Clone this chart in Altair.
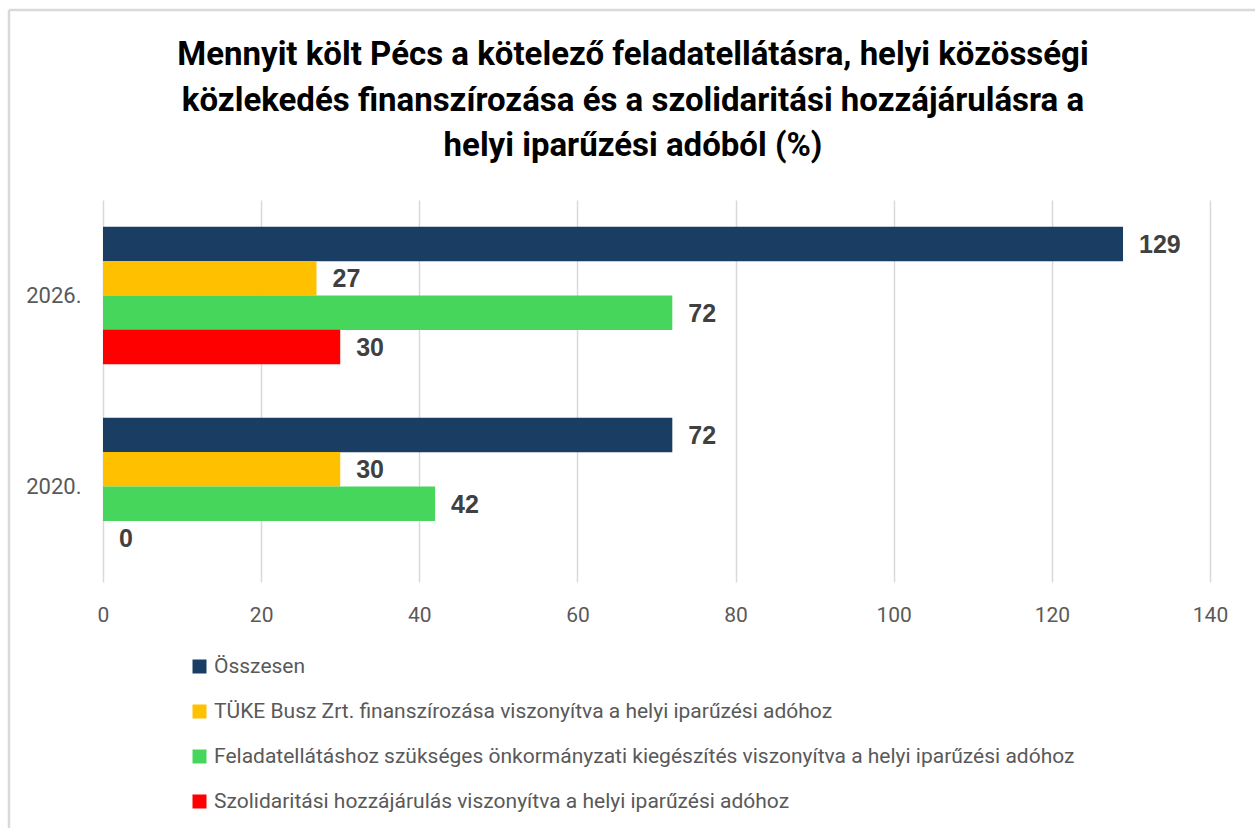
import altair as alt
import pandas as pd

years = ["2026.", "2020."]
series = [
    "Összesen",
    "TÜKE Busz Zrt. finanszírozása viszonyítva a helyi iparűzési adóhoz",
    "Feladatellátáshoz szükséges önkormányzati kiegészítés viszonyítva a helyi iparűzési adóhoz",
    "Szolidaritási hozzájárulás viszonyítva a helyi iparűzési adóhoz",
]
values_2026 = [129, 27, 72, 30]
values_2020 = [72, 30, 42, 0]
colors = ["#1a3d63", "#ffc000", "#47d65c", "#ff0000"]
x_ticks = [0, 20, 40, 60, 80, 100, 120, 140]
title_lines = [
    "Mennyit költ Pécs a kötelező feladatellátásra, helyi közösségi",
    "közlekedés finanszírozása és a szolidaritási hozzájárulásra a",
    "helyi iparűzési adóból (%)",
]

rows = []
for yr, vals in zip(years, [values_2026, values_2020]):
    for s, v in zip(series, vals):
        rows.append({"year": yr, "series": s, "value": v})
df = pd.DataFrame(rows)
one = pd.DataFrame({"k": [0]})

TITLE_FONT = "Roboto, Liberation Sans, sans-serif"
LABEL_FONT = "Liberation Sans, sans-serif"
BODY_FONT = "Roboto, Liberation Sans, sans-serif"

y_enc = alt.Y(
    "year:N",
    sort=years,
    scale=alt.Scale(paddingInner=0.28, paddingOuter=0.14),
    axis=alt.Axis(
        title=None, domain=False, ticks=False, labelFont=BODY_FONT,
        labelFontSize=22, labelColor="#595959", labelPadding=22, grid=False,
    ),
)
x_enc = alt.X(
    "value:Q",
    scale=alt.Scale(domain=[0, 140], nice=False),
    axis=alt.Axis(
        title=None, values=x_ticks, domain=False, ticks=False, grid=True,
        gridColor="#d9d9d9", gridWidth=1.5, labelFont=BODY_FONT,
        labelFontSize=21, labelColor="#595959", labelPadding=22,
        labelFlush=False,
    ),
)
yoff = alt.YOffset("series:N", sort=series, scale=alt.Scale(paddingInner=0, paddingOuter=0))

base = alt.Chart(df)

bars = base.mark_bar(size=34.5).encode(
    x=x_enc,
    y=y_enc,
    yOffset=yoff,
    color=alt.Color(
        "series:N",
        sort=series,
        scale=alt.Scale(domain=series, range=colors),
        legend=alt.Legend(
            title=None, orient="none", legendX=86, legendY=456, direction="vertical",
            symbolType="square", symbolSize=196, symbolStrokeWidth=0,
            labelFont=BODY_FONT, labelFontSize=21, labelColor="#595959",
            labelOffset=4, rowPadding=23, labelLimit=1200,
        ),
    ),
)

labels = base.mark_text(
    align="left", baseline="middle", dx=16, dy=1, font=LABEL_FONT,
    fontSize=25, fontWeight="bold", color="#404040",
).encode(
    x=alt.X("value:Q"),
    y=alt.Y("year:N", sort=years),
    yOffset=alt.YOffset("series:N", sort=series),
    text=alt.Text("value:Q"),
)

title = alt.Chart(one).mark_text(
    text=title_lines, font=TITLE_FONT, fontSize=33, fontWeight="bold",
    color="#000000", align="center", baseline="alphabetic", lineHeight=45.5,
).encode(x=alt.value(530), y=alt.value(-135))

frame_top = alt.Chart(one).mark_rule(color="#d9d9d9", strokeWidth=2.5).encode(
    x=alt.value(-94), x2=alt.value(1160), y=alt.value(-190)
)
frame_left = alt.Chart(one).mark_rule(color="#d9d9d9", strokeWidth=2.5).encode(
    x=alt.value(-94), y=alt.value(-190), y2=alt.value(640)
)

chart = alt.layer(bars, labels, title, frame_top, frame_left).properties(
    width=1107,
    height=382,
    padding={"left": 103, "top": 200, "right": 45, "bottom": 246},
    autosize=alt.AutoSizeParams(type="none"),
).configure_view(stroke=None)

chart.save("out.html", embed_options={"renderer": "svg", "actions": False})
